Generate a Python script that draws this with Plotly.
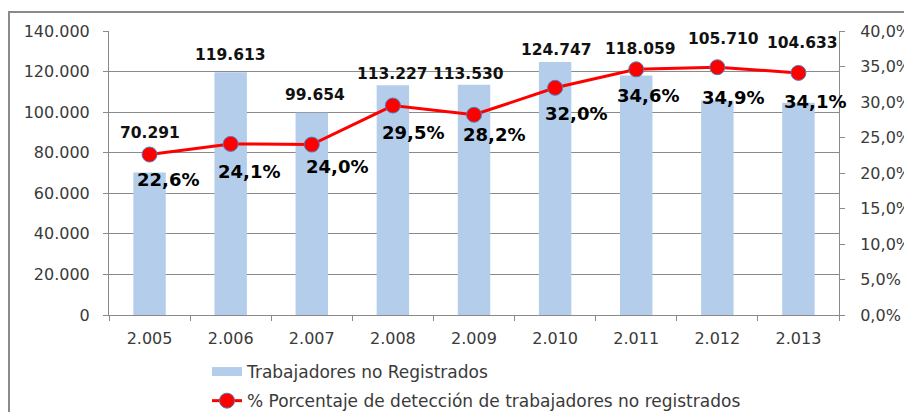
import plotly.graph_objects as go

years = ["2.005", "2.006", "2.007", "2.008", "2.009", "2.010", "2.011", "2.012", "2.013"]
workers = [70291, 119613, 99654, 113227, 113530, 124747, 118059, 105710, 104633]
pct = [0.226, 0.241, 0.240, 0.295, 0.282, 0.320, 0.346, 0.349, 0.341]

bar_name = "Trabajadores no Registrados"
line_name = "% Porcentaje de detección de trabajadores no registrados"

# label placement (pixels): bar labels above bar top, pct labels below marker
bar_lab_dy = [39, 17, 18, 11, 11, 12, 27, 62, 60]
bar_lab_dx = [0, 0, 3, 0, -6, 1, 4, 6, 4]
pct_lab_dy = [25, 28, 22, 27, 20, 26, 26, 30, 29]
pct_lab_dx = [18, 18, 25, 20, 20, 21, 12, 16, 17]

BAR_COLOR = "#B3CDEA"
GRID = "#8A8A8A"
TXT = "#3A3A3A"


def fmt_thousands(v):
    return f"{v:,}".replace(",", ".")


def fmt_pct(p):
    return f"{p*100:.1f}%".replace(".", ",")


fig = go.Figure()
fig.add_trace(go.Bar(
    x=years, y=workers, name=bar_name, marker_color=BAR_COLOR,
    marker_line_width=0, showlegend=False, yaxis="y",
))
# legend proxy for the bar series (wide swatch)
fig.add_trace(go.Scatter(
    x=[None], y=[None], mode="lines", name=bar_name,
    line=dict(color=BAR_COLOR, width=9), legendgroup="a", yaxis="y",
))
fig.add_trace(go.Scatter(
    x=years, y=pct, name=line_name, mode="lines+markers", yaxis="y2",
    line=dict(color="#FF0000", width=3),
    marker=dict(color="#FF0000", size=15, line=dict(color="#4F7FBF", width=1)),
    legendgroup="b",
))

annotations = []
for i, yr in enumerate(years):
    annotations.append(dict(
        x=i, y=workers[i], xref="x", yref="y", text=f"<b>{fmt_thousands(workers[i])}</b>",
        showarrow=False, yanchor="middle", xanchor="center",
        yshift=bar_lab_dy[i], xshift=bar_lab_dx[i],
        font=dict(family="DejaVu Sans", size=15.5, color="#111111"),
    ))
    annotations.append(dict(
        x=i, y=pct[i], xref="x", yref="y2", text=f"<b>{fmt_pct(pct[i])}</b>",
        showarrow=False, yanchor="middle", xanchor="center",
        yshift=-pct_lab_dy[i], xshift=pct_lab_dx[i],
        font=dict(family="DejaVu Sans", size=18, color="#000000"),
    ))

# page body has an 8px margin; figure coords = screen coords - 8
W, H = 904, 404
L, T = 101, 23
R = W - 831
B = H - 307
pw, ph = W - L - R, H - T - B

fig.update_layout(
    width=W, height=H,
    margin=dict(l=L, r=R, t=T, b=B, pad=0, autoexpand=False),
    paper_bgcolor="white", plot_bgcolor="white",
    separators=",.",
    bargap=0.6,
    font=dict(family="DejaVu Sans", size=16, color=TXT),
    xaxis=dict(
        type="category", range=[-0.5, len(years) - 0.5],
        showline=True, linecolor=GRID, linewidth=1,
        ticks="outside", ticklen=5, tickcolor=GRID, tickson="boundaries",
        showgrid=False, tickfont=dict(size=16, color=TXT), automargin=False,
        ticklabelstandoff=9,
    ),
    yaxis=dict(
        range=[0, 140000], dtick=20000, tickformat=",.0f",
        showline=True, linecolor=GRID, linewidth=1,
        ticks="outside", ticklen=5, tickcolor=GRID,
        showgrid=True, gridcolor=GRID, gridwidth=1, zeroline=False,
        tickfont=dict(size=16, color=TXT), automargin=False,
        ticklabelstandoff=10,
    ),
    yaxis2=dict(
        range=[0, 0.4], dtick=0.05, tickformat=".1%", overlaying="y", side="right",
        showline=True, linecolor=GRID, linewidth=1,
        ticks="outside", ticklen=5, tickcolor=GRID,
        showgrid=False, zeroline=False, tickfont=dict(size=16, color=TXT), automargin=False,
        ticklabelstandoff=12,
    ),
    legend=dict(
        orientation="v", x=(199 - L) / pw, xanchor="left",
        y=-(346 - (T + ph)) / ph, yanchor="top",
        traceorder="grouped", tracegroupgap=4,
        font=dict(size=17, color=TXT), bgcolor="rgba(0,0,0,0)",
    ),
    annotations=annotations,
    shapes=[dict(
        type="rect", xref="paper", yref="paper",
        x0=(1 - L) / pw, x1=(W + 20 - L) / pw,
        y0=-(H + 20 - T - ph) / ph, y1=1 + (T - 4) / ph,
        line=dict(color="#8A8A8A", width=2), fillcolor="rgba(0,0,0,0)", layer="below",
    )],
)

fig.write_html("out.html")
